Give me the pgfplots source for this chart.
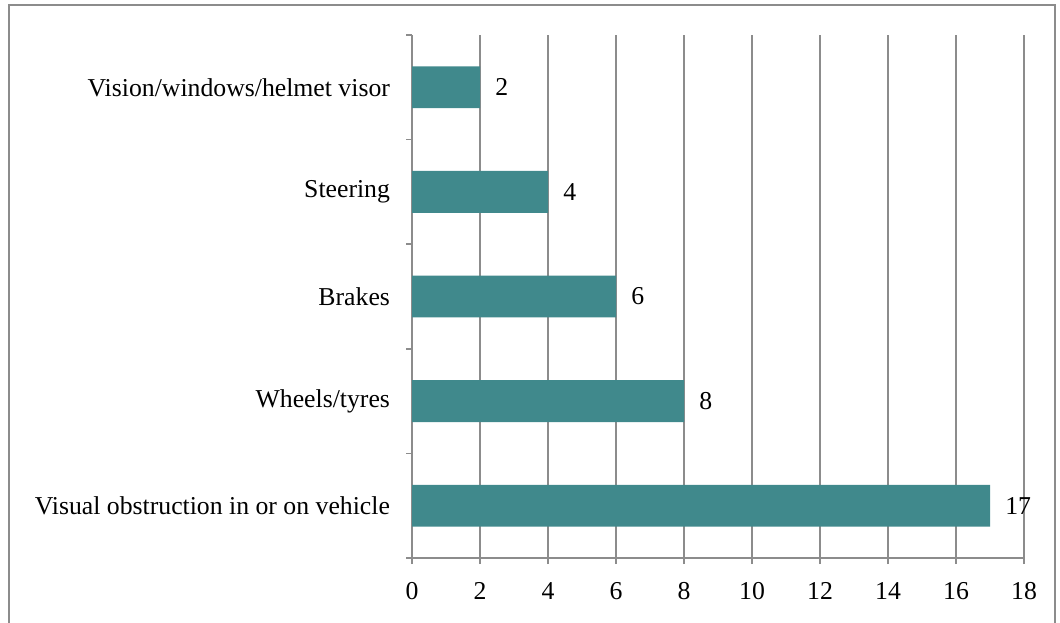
\documentclass[border=0pt]{standalone}
\usepackage{fontspec}
\setmainfont{Liberation Serif}
\usepackage{pgfplots}
\pgfplotsset{compat=1.18}
\definecolor{barc}{RGB}{64,137,140}
\definecolor{gr}{RGB}{140,140,140}
\begin{document}
\begin{tikzpicture}
\path[use as bounding box] (0pt,0pt) rectangle (795pt,466.5pt);
\draw[gr, line width=1.4pt] (6.5pt,-10pt) -- (6.5pt,462.8pt) -- (791pt,462.8pt) -- (791pt,-10pt);
\begin{axis}[
  at={(309pt,48pt)}, anchor=south west,
  scale only axis, width=459pt, height=392.25pt,
  xbar, bar width=0.4,
  xmin=0, xmax=18, ymin=0.5, ymax=5.5,
  enlargelimits=false,
  xtick={0,2,...,18},
  ytick={0.5,1.5,2.5,3.5,4.5,5.5},
  yticklabels={},
  axis x line*=bottom, axis y line*=left,
  axis line style={gr, line width=1.3pt, -},
  xmajorgrids, grid style={gr, line width=1.3pt},
  tick style={gr, line width=1.3pt},
  tick align=outside,
  major tick length=4.5pt,
  extra y ticks={1,2,3,4,5},
  extra y tick labels={Visual obstruction in or on vehicle, Wheels/tyres, Brakes, Steering, Vision/windows/helmet visor},
  extra y tick style={major tick length=0pt, grid=none},
  /pgf/number format/assume math mode=true,
  tick label style={font=\fontsize{19.3}{23}\selectfont, black},
  xticklabel style={yshift=-10pt, text height=13pt, text depth=0pt},
  yticklabel style={xshift=-13pt},
  nodes near coords,
  nodes near coords align=horizontal,
  nodes near coords style={anchor=west, xshift=8pt, font=\fontsize{19.3}{23}\selectfont, black},
]
\addplot[fill=barc, draw=none] coordinates {(17,1) (8,2) (6,3) (4,4) (2,5)};
\end{axis}
\end{tikzpicture}
\end{document}
